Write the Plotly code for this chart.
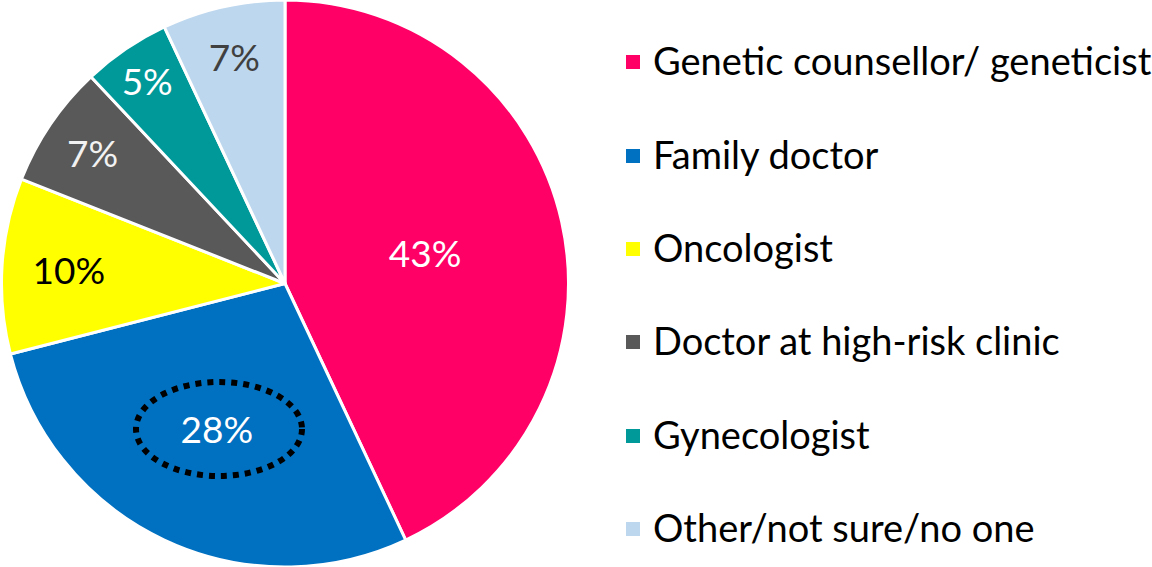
import plotly.graph_objects as go

# Dati
labels = [
    "Genetic counsellor/ geneticist",
    "Family doctor",
    "Oncologist",
    "Doctor at high-risk clinic",
    "Gynecologist",
    "Other/not sure/no one",
]
values = [43, 28, 10, 7, 5, 7]
colors = ["#FF0066", "#0070C0", "#FFFF00", "#595959", "#009999", "#BDD7EE"]
text_colors = ["#FFFFFF", "#FFFFFF", "#000000", "#F2F2F2", "#FFFFFF", "#404040"]

FONT = "Lato, 'Noto Sans', sans-serif"
W, H = 1152, 567

fig = go.Figure()

fig.add_trace(
    go.Pie(
        labels=labels,
        values=values,
        sort=False,
        direction="clockwise",
        rotation=0,
        marker=dict(colors=colors, line=dict(color="#FFFFFF", width=3)),
        texttemplate="%{value}%",
        textposition="inside",
        insidetextorientation="horizontal",
        textfont=dict(family=FONT, size=37, color=text_colors),
        domain=dict(x=[0, 570 / W], y=[0, 1]),
        showlegend=False,
        hoverinfo="label+value",
    )
)

# Legenda manuale: quadratini + testo
row_y = [62, 156, 249, 342, 436, 529]
sq = 14
for lab, col, y in zip(labels, colors, row_y):
    fig.add_shape(
        type="rect", xref="paper", yref="paper",
        x0=626 / W, x1=(626 + sq) / W,
        y0=1 - (y + sq / 2) / H, y1=1 - (y - sq / 2) / H,
        fillcolor=col, line=dict(width=0),
    )
    fig.add_annotation(
        x=651 / W, y=1 - (y - 2) / H, xref="paper", yref="paper",
        xanchor="left", yanchor="middle", showarrow=False,
        text=lab,
        font=dict(family=FONT, size=38, color="#000000"),
    )

# Ellisse tratteggiata attorno al 28%
fig.add_shape(
    type="circle", xref="paper", yref="paper",
    x0=136 / W, x1=302 / W, y0=1 - 476 / H, y1=1 - 382 / H,
    line=dict(color="#000000", width=6, dash="6px,6px"),
)

fig.update_layout(
    width=W, height=H,
    margin=dict(l=0, r=0, t=0, b=0),
    paper_bgcolor="#ffffff",
    plot_bgcolor="#ffffff",
    font=dict(family=FONT),
)

# niente margine del body, così la figura parte da (0,0)
fig.write_html(
    "out.html",
    config={"displayModeBar": False},
    post_script="document.body.style.margin='0';",
)
